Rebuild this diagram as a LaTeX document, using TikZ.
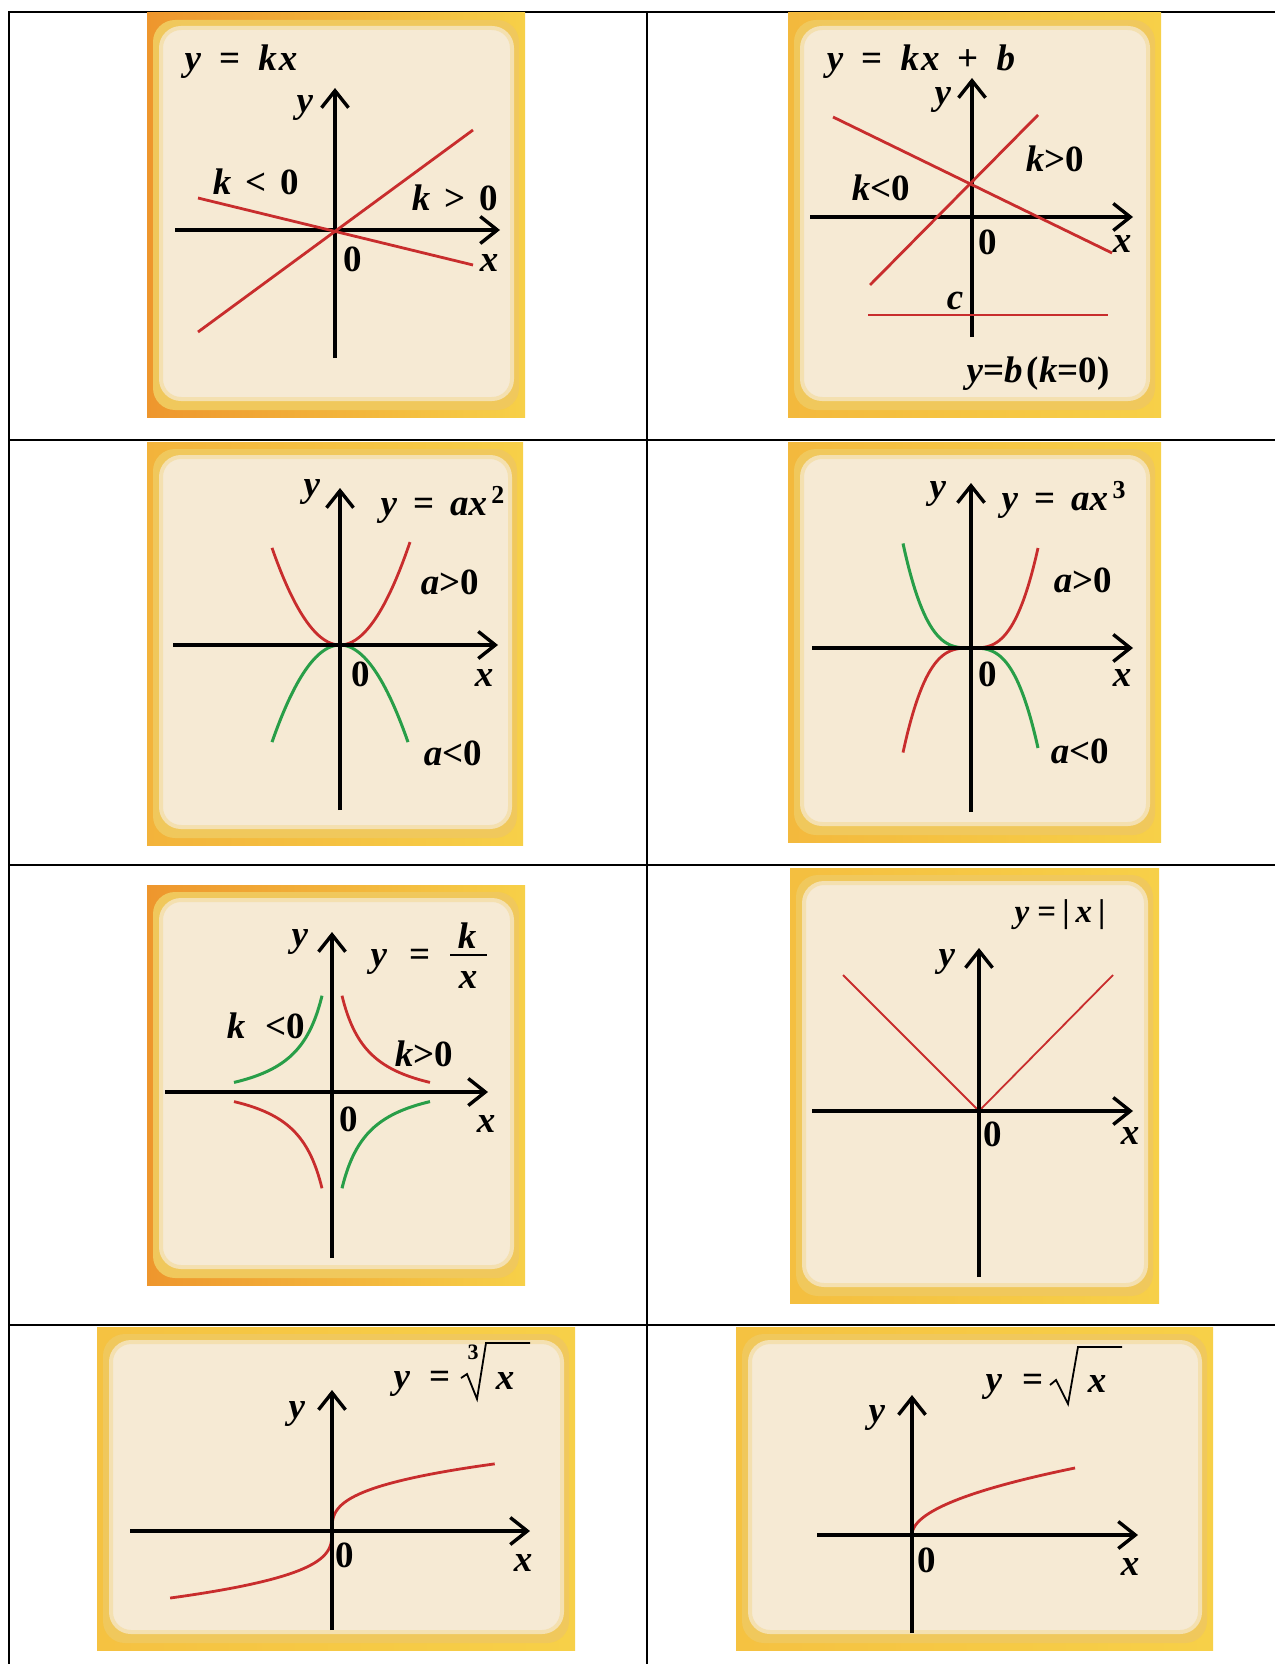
\documentclass[tikz,border=0pt]{standalone}
\usepackage{fontspec}
\setmainfont{Liberation Serif}
\usetikzlibrary{arrows.meta,calc}
\definecolor{cream}{RGB}{246,234,212}
\definecolor{rim}{RGB}{240,200,92}
\definecolor{fOrange}{RGB}{238,150,45}
\definecolor{fYellow}{RGB}{247,208,72}
\definecolor{cRed}{RGB}{200,45,45}
\definecolor{cGreen}{RGB}{40,158,72}
\newcommand\iv[1]{\textit{#1}}
\newcommand\gpanel[5]{%
  \fill[left color=#5, right color=fYellow] (#1,#2) rectangle (#3,#4);
  \fill[rim, rounded corners=11pt] (#1+6,#2+7) rectangle (#3-6,#4-7);
  \fill[cream, draw=rim!30!cream, line width=2pt, rounded corners=10pt] (#1+14,#2+15) rectangle (#3-13,#4-18);
}
\tikzset{
  x=0.5pt, y=-0.5pt,
  axis/.style={line width=1.7pt, -{Straight Barb[length=8.5pt,width=13.5pt,line width=1.7pt]}},
  redc/.style={cRed, line width=1.4pt},
  greenc/.style={cGreen, line width=1.5pt},
  lab/.style={font=\fontsize{18.5}{22}\selectfont\bfseries, inner sep=0pt},
  slab/.style={font=\fontsize{16.5}{20}\selectfont\bfseries, inner sep=0pt},
  tlab/.style={font=\fontsize{11}{13}\selectfont\bfseries, inner sep=0pt},
  radic/.style={line width=0.9pt, line join=miter},
  gridline/.style={line width=1pt}
}
\begin{document}
\begin{tikzpicture}
\useasboundingbox (0,0) rectangle (1275,1664);
% table
\draw[gridline] (9,1664) -- (9,12) -- (1275,12);
\draw[gridline] (647,12) -- (647,1664);
\draw[gridline] (9,440) -- (1275,440);
\draw[gridline] (9,865) -- (1275,865);
\draw[gridline] (9,1325) -- (1275,1325);
% frames
\gpanel{147}{13}{525}{417}{fOrange}
\gpanel{788}{13}{1161}{417}{fOrange!40!fYellow}
\gpanel{147}{442}{523}{845}{fOrange!50!fYellow}
\gpanel{788}{442}{1161}{842}{fOrange!40!fYellow}
\gpanel{147}{885}{525}{1285}{fOrange}
\gpanel{790}{868}{1159}{1303}{fOrange!30!fYellow}
\gpanel{97}{1327}{575}{1650}{fOrange!25!fYellow}
\gpanel{736}{1327}{1213}{1650}{fOrange!25!fYellow}

% ---------- Panel 1: y = kx
\coordinate (a1l) at (175,230); \coordinate (a1r) at (500,230);
\coordinate (a1b) at (335,358); \coordinate (a1t) at (335,88);
\draw[axis] (a1l) -- (a1r);
\draw[axis] (a1b) -- (a1t);
\coordinate (p1a) at (198,332); \coordinate (p1b) at (473,130);
\coordinate (p1c) at (198,198); \coordinate (p1d) at (473,265);
\draw[redc] (p1a) -- (p1b);
\draw[redc] (p1c) -- (p1d);
\node[lab] (t1) at (241,62) {\iv{y}\hspace{9pt}=\hspace{9pt}\iv{k\kern1pt x}};
\node[lab] (y1) at (305,108) {\iv{y}};
\node[lab] (kl1) at (256,182) {\iv{k}\hspace{7pt}<\hspace{7pt}0};
\node[lab] (kg1) at (455,198) {\iv{k}\hspace{7pt}>\hspace{7pt}0};
\node[lab] (z1) at (353,259) {0};
\node[lab] (x1) at (489,263) {\iv{x}};

% ---------- Panel 2: y = kx + b
\coordinate (a2l) at (810,217); \coordinate (a2r) at (1133,217);
\coordinate (a2b) at (972,337); \coordinate (a2t) at (972,78);
\draw[axis] (a2l) -- (a2r);
\draw[axis] (a2b) -- (a2t);
\coordinate (p2a) at (833,117); \coordinate (p2b) at (1112,253);
\coordinate (p2c) at (870,285); \coordinate (p2d) at (1038,115);
\coordinate (p2e) at (868,315); \coordinate (p2f) at (1108,315);
\draw[redc] (p2a) -- (p2b);
\draw[redc] (p2c) -- (p2d);
\draw[redc] (p2e) -- (p2f);
\node[lab] (t2) at (921,62) {\iv{y}\hspace{9pt}=\hspace{9pt}\iv{k\kern1pt x}\hspace{9pt}+\hspace{9pt}\iv{b}};
\node[lab] (y2) at (943,100) {\iv{y}};
\node[lab] (kl2) at (881,188) {\iv{k}<0};
\node[lab] (kg2) at (1055,159) {\iv{k}>0};
\node[lab] (z2) at (988,242) {0};
\node[lab] (x2) at (1122,244) {\iv{x}};
\node[lab] (c2) at (955,301) {\iv{c}};
\node[lab] (b2) at (1038,374) {\iv{y}=\iv{b}\hspace{2pt}(\iv{k}=0)};

% ---------- Panel 3: y = ax^2
\coordinate (o3) at (340,645);
\coordinate (a3l) at (173,645); \coordinate (a3r) at (498,645);
\coordinate (a3b) at (340,810); \coordinate (a3t) at (340,488);
\begin{scope}[shift={(o3)}]
  \draw[redc] plot[domain=-68:70, samples=60, smooth] (\x, {-100*(\x/69)*(\x/69)});
  \draw[greenc] plot[domain=-68:68, samples=60, smooth] (\x, {100*(\x/69)*(\x/69)});
\end{scope}
\draw[axis] (a3l) -- (a3r);
\draw[axis] (a3b) -- (a3t);
\node[lab] (y3) at (312,492) {\iv{y}};
\node[lab] (t3) at (443,505) {\iv{y}\hspace{8pt}=\hspace{8pt}\iv{ax}\textsuperscript{\,2}};
\node[lab] (ag3) at (450,582) {\iv{a}>0};
\node[lab] (al3) at (453,753) {\iv{a}<0};
\node[lab] (z3) at (361,674) {0};
\node[lab] (x3) at (484,678) {\iv{x}};

% ---------- Panel 4: y = ax^3
\coordinate (o4) at (971,648);
\coordinate (a4l) at (812,648); \coordinate (a4r) at (1133,648);
\coordinate (a4b) at (971,812); \coordinate (a4t) at (971,483);
\begin{scope}[shift={(o4)}]
  \draw[redc] plot[domain=-68:67, samples=60, smooth] (\x, {-100*(\x/67)*(\x/67)*(\x/67)});
  \draw[greenc] plot[domain=-68:67, samples=60, smooth] (\x, {100*(\x/67)*(\x/67)*(\x/67)});
\end{scope}
\draw[axis] (a4l) -- (a4r);
\draw[axis] (a4b) -- (a4t);
\node[lab] (y4) at (938,494) {\iv{y}};
\node[lab] (t4) at (1064,500) {\iv{y}\hspace{8pt}=\hspace{8pt}\iv{ax}\textsuperscript{\,3}};
\node[lab] (ag4) at (1083,580) {\iv{a}>0};
\node[lab] (al4) at (1080,751) {\iv{a}<0};
\node[lab] (z4) at (988,674) {0};
\node[lab] (x4) at (1122,678) {\iv{x}};

% ---------- Panel 5: y = k/x
\coordinate (o5) at (332,1092);
\coordinate (a5l) at (165,1092); \coordinate (a5r) at (488,1092);
\coordinate (a5b) at (332,1258); \coordinate (a5t) at (332,932);
\begin{scope}[shift={(o5)}]
  \draw[redc] plot[domain=10:98, samples=50, smooth] (\x, {-(3200/(\x+18)-18)});
  \draw[greenc] plot[domain=-98:-10, samples=50, smooth] (\x, {-(3200/(-\x+18)-18)});
  \draw[redc] plot[domain=-98:-10, samples=50, smooth] (\x, {3200/(-\x+18)-18});
  \draw[greenc] plot[domain=10:98, samples=50, smooth] (\x, {3200/(\x+18)-18});
\end{scope}
\draw[axis] (a5l) -- (a5r);
\draw[axis] (a5b) -- (a5t);
\node[lab] (y5) at (300,942) {\iv{y}};
\node[lab] (t5y) at (379,962) {\iv{y}};
\node[lab] (t5e) at (420,958) {=};
\node[lab] (t5k) at (467,936) {\iv{k}};
\coordinate (f5l) at (450,955); \coordinate (f5r) at (487,955);
\draw[line width=1.3pt] (f5l) -- (f5r);
\node[lab] (t5x) at (468,980) {\iv{x}};
\node[lab] (kl5) at (266,1026) {\iv{k}\hspace{10pt}<0};
\node[lab] (kg5) at (424,1054) {\iv{k}>0};
\node[lab] (z5) at (349,1119) {0};
\node[lab] (x5) at (486,1124) {\iv{x}};

% ---------- Panel 6: y = |x|
\coordinate (o6) at (979,1111);
\coordinate (a6l) at (812,1111); \coordinate (a6r) at (1133,1111);
\coordinate (a6b) at (979,1277); \coordinate (a6t) at (979,948);
\coordinate (p6a) at (843,975); \coordinate (p6b) at (1113,975);
\draw[cRed, line width=0.9pt] (p6a) -- (o6) -- (p6b);
\draw[axis] (a6l) -- (a6r);
\draw[axis] (a6b) -- (a6t);
\node[slab] (t6) at (1060,915) {\iv{y}\hspace{4pt}=\hspace{3pt}|\hspace{3pt}\iv{x}\hspace{3pt}|};
\node[lab] (y6) at (947,962) {\iv{y}};
\node[lab] (z6) at (993,1134) {0};
\node[lab] (x6) at (1130,1136) {\iv{x}};

% ---------- Panel 7: y = cube root x
\coordinate (o7) at (332,1531);
\coordinate (a7l) at (130,1531); \coordinate (a7r) at (530,1531);
\coordinate (a7b) at (332,1630); \coordinate (a7t) at (332,1390);
\begin{scope}[shift={(o7)}]
  \draw[redc] plot[domain=-5.45:5.46, samples=80, smooth] ({\x*\x*\x}, {-12.3*\x});
\end{scope}
\draw[axis] (a7l) -- (a7r);
\draw[axis] (a7b) -- (a7t);
\node[lab] (y7) at (297,1414) {\iv{y}};
\node[lab] (t7y) at (402,1384) {\iv{y}};
\node[lab] (t7e) at (440,1380) {=};
\node[tlab] (t7n) at (473,1352) {3};
\coordinate (r7a) at (461,1378); \coordinate (r7b) at (467,1374);
\coordinate (r7c) at (477,1399); \coordinate (r7d) at (486,1343);
\coordinate (r7e) at (530,1343);
\draw[radic] (r7a) -- (r7b) -- (r7c) -- (r7d) -- (r7e);
\node[lab] (t7x) at (505,1381) {\iv{x}};
\node[lab] (z7) at (345,1555) {0};
\node[lab] (x7) at (523,1563) {\iv{x}};

% ---------- Panel 8: y = sqrt x
\coordinate (o8) at (912,1535);
\coordinate (a8l) at (817,1535); \coordinate (a8r) at (1138,1535);
\coordinate (a8b) at (912,1633); \coordinate (a8t) at (912,1395);
\begin{scope}[shift={(o8)}]
  \draw[redc] plot[domain=0:12.77, samples=80, smooth] ({\x*\x}, {-5.25*\x});
\end{scope}
\draw[axis] (a8l) -- (a8r);
\draw[axis] (a8b) -- (a8t);
\node[lab] (y8) at (877,1418) {\iv{y}};
\node[lab] (t8y) at (994,1387) {\iv{y}};
\node[lab] (t8e) at (1033,1383) {=};
\coordinate (r8a) at (1050,1385); \coordinate (r8b) at (1056,1380);
\coordinate (r8c) at (1068,1404); \coordinate (r8d) at (1078,1347);
\coordinate (r8e) at (1122,1347);
\draw[radic] (r8a) -- (r8b) -- (r8c) -- (r8d) -- (r8e);
\node[lab] (t8x) at (1097,1384) {\iv{x}};
\node[lab] (z8) at (927,1560) {0};
\node[lab] (x8) at (1130,1567) {\iv{x}};
\end{tikzpicture}
\end{document}
